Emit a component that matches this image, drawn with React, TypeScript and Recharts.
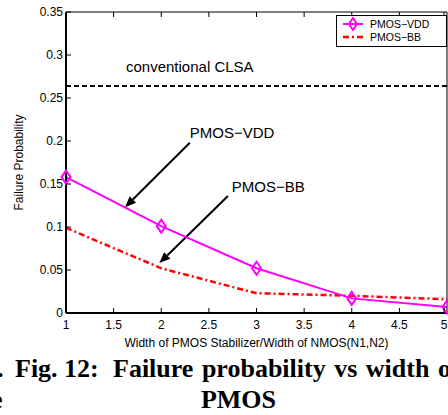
import { Legend, Line, LineChart, ReferenceDot, ReferenceLine, XAxis, YAxis } from 'recharts';

const widthRatio = [1, 2, 3, 4, 5];
const pmosVdd = [0.158, 0.101, 0.052, 0.017, 0.007];
const pmosBb = [0.099, 0.052, 0.023, 0.02, 0.016];
const clsaLevel = 0.264;
const xTicks = [1, 1.5, 2, 2.5, 3, 3.5, 4, 4.5, 5];
const yTicks = [0, 0.05, 0.1, 0.15, 0.2, 0.25, 0.3, 0.35];

const data = widthRatio.map((x, i) => ({ x, vdd: pmosVdd[i], bb: pmosBb[i] }));

const SANS = '"Liberation Sans", Arial, Helvetica, sans-serif';
const SERIF = '"Liberation Serif", "Times New Roman", serif';
const MAGENTA = '#ff00ff';
const RED = '#ff0000';

// tick x/y arrive as the text anchor; tickSize is 0 so the axis line sits tickMargin away
function LeftTick({ x, y, payload }: any) {
  return (
    <g>
      <line x1={x + 3} y1={y} x2={x + 8} y2={y} stroke="#000" />
      <text x={x} y={y} dy="0.36em" textAnchor="end" fontSize={12} fontFamily={SANS} fill="#000">
        {payload.value}
      </text>
    </g>
  );
}

function RightTick({ x, y }: any) {
  return <line x1={x} y1={y} x2={x - 5} y2={y} stroke="#000" />;
}

function BottomTick({ x, y, payload }: any) {
  return (
    <g>
      <line x1={x} y1={y} x2={x} y2={y - 5} stroke="#000" />
      <text x={x} y={y + 16} textAnchor="middle" fontSize={12} fontFamily={SANS} fill="#000">
        {payload.value}
      </text>
    </g>
  );
}

function TopTick({ x, y }: any) {
  return <line x1={x} y1={y} x2={x} y2={y + 5} stroke="#000" />;
}

function Diamond({ cx, cy }: any) {
  if (cx == null || cy == null) return null;
  return (
    <polygon
      points={`${cx},${cy - 6.5} ${cx + 4.5},${cy} ${cx},${cy + 6.5} ${cx - 4.5},${cy}`}
      fill="none"
      stroke={MAGENTA}
      strokeWidth={2}
    />
  );
}

function Arrow({ x1, y1, x2, y2 }: any) {
  const dx = x2 - x1;
  const dy = y2 - y1;
  const len = Math.hypot(dx, dy) || 1;
  const ux = dx / len;
  const uy = dy / len;
  const head = 11;
  const half = 4.5;
  const bx = x2 - ux * head;
  const by = y2 - uy * head;
  return (
    <g>
      <line x1={x1} y1={y1} x2={bx} y2={by} stroke="#000" strokeWidth={2} />
      <polygon
        points={`${x2},${y2} ${bx - uy * half},${by + ux * half} ${bx + uy * half},${by - ux * half}`}
        fill="#000"
      />
    </g>
  );
}

function LegendBox() {
  return (
    <svg width={111} height={32} style={{ display: 'block' }}>
      <rect x={0.5} y={0.5} width={110} height={31} fill="#fff" stroke="#000" />
      <line x1={7} y1={9} x2={27} y2={9} stroke={MAGENTA} strokeWidth={2} />
      <polygon points="17,3 21,9 17,15 13,9" fill="none" stroke={MAGENTA} strokeWidth={2} />
      <text x={34} y={9} dy="0.36em" fontSize={10.5} fontFamily={SANS} fill="#000">
        PMOS−VDD
      </text>
      <line x1={7} y1={22} x2={27} y2={22} stroke={RED} strokeWidth={2.5} strokeDasharray="6 3 2 3" />
      <text x={34} y={22} dy="0.36em" fontSize={10.5} fontFamily={SANS} fill="#000">
        PMOS−BB
      </text>
    </svg>
  );
}

const annoLabel = (value: string) => ({
  value,
  position: 'right' as const,
  offset: 0,
  fill: '#000',
  fontSize: 15,
  fontFamily: SANS,
});

export default function App() {
  return (
    <div style={{ position: 'absolute', left: 0, top: 0, width: 448, height: 415, overflow: 'hidden', background: '#fff' }}>
      <LineChart width={448} height={415} data={data} margin={{ top: 2, right: 0, bottom: 62, left: 26 }}>
        <XAxis
          dataKey="x"
          type="number"
          domain={[1, 5]}
          ticks={xTicks}
          height={40}
          tickSize={0}
          tickMargin={0}
          tickLine={false}
          tick={<BottomTick />}
          axisLine={{ stroke: '#000', strokeWidth: 2 }}
          label={{
            content: ({ viewBox }: any) => (
              <text
                x={viewBox.x + viewBox.width / 2}
                y={347}
                textAnchor="middle"
                fontSize={12}
                fontFamily={SANS}
                fill="#000"
              >
                Width of PMOS Stabilizer/Width of NMOS(N1,N2)
              </text>
            ),
          }}
        />
        <XAxis
          xAxisId="top"
          orientation="top"
          dataKey="x"
          type="number"
          domain={[1, 5]}
          ticks={xTicks}
          height={10}
          tickSize={0}
          tickMargin={0}
          tickLine={false}
          tick={<TopTick />}
          axisLine={{ stroke: '#000', strokeWidth: 1 }}
        />
        <YAxis
          type="number"
          domain={[0, 0.35]}
          ticks={yTicks}
          width={40}
          tickSize={0}
          tickMargin={3}
          tickLine={false}
          tick={<LeftTick />}
          axisLine={{ stroke: '#000', strokeWidth: 2 }}
          label={{
            content: ({ viewBox }: any) => (
              <text
                transform={`translate(19, ${viewBox.y + viewBox.height / 2}) rotate(-90)`}
                textAnchor="middle"
                dy="0.36em"
                fontSize={12}
                fontFamily={SANS}
                fill="#000"
              >
                Failure Probability
              </text>
            ),
          }}
        />
        <YAxis
          yAxisId="right"
          orientation="right"
          type="number"
          domain={[0, 0.35]}
          ticks={yTicks}
          width={1}
          tickSize={0}
          tickMargin={0}
          tickLine={false}
          tick={<RightTick />}
          axisLine={{ stroke: '#000', strokeWidth: 1 }}
        />
        <ReferenceLine y={clsaLevel} stroke="#000" strokeWidth={2} strokeDasharray="5 3" />
        <ReferenceDot x={1.63} y={0.286} r={0} stroke="none" fill="none" label={annoLabel('conventional CLSA')} />
        <ReferenceDot x={2.3} y={0.21} r={0} stroke="none" fill="none" label={annoLabel('PMOS−VDD')} />
        <ReferenceDot x={2.74} y={0.147} r={0} stroke="none" fill="none" label={annoLabel('PMOS−BB')} />
        <ReferenceLine segment={[{ x: 2.3, y: 0.198 }, { x: 1.62, y: 0.123 }]} shape={<Arrow />} />
        <ReferenceLine segment={[{ x: 2.7, y: 0.136 }, { x: 1.98, y: 0.058 }]} shape={<Arrow />} />
        <Line
          dataKey="bb"
          name="PMOS−BB"
          stroke={RED}
          strokeWidth={2.5}
          strokeDasharray="6 3 2 3"
          dot={false}
          activeDot={false}
          isAnimationActive={false}
        />
        <Line
          dataKey="vdd"
          name="PMOS−VDD"
          stroke={MAGENTA}
          strokeWidth={2}
          dot={<Diamond />}
          activeDot={false}
          isAnimationActive={false}
        />
        <Legend
          layout="vertical"
          align="center"
          verticalAlign="middle"
          content={<LegendBox />}
          wrapperStyle={{ left: 336, top: 15, width: 111, height: 32, right: 'auto', bottom: 'auto' }}
        />
      </LineChart>
      <svg width={448} height={415} style={{ position: 'absolute', left: 0, top: 0, pointerEvents: 'none' }}>
        <g fontFamily={SERIF} fontWeight="bold" fontSize={26} fill="#000">
          <text x={-3} y={377}>.</text>
          <text x={-9} y={408}>e</text>
          <text x={15} y={377}>Fig. 12:</text>
          <text x={113} y={377} wordSpacing={2}>Failure probability vs width of</text>
          <text x={238.5} y={408} textAnchor="middle">PMOS</text>
        </g>
      </svg>
    </div>
  );
}
